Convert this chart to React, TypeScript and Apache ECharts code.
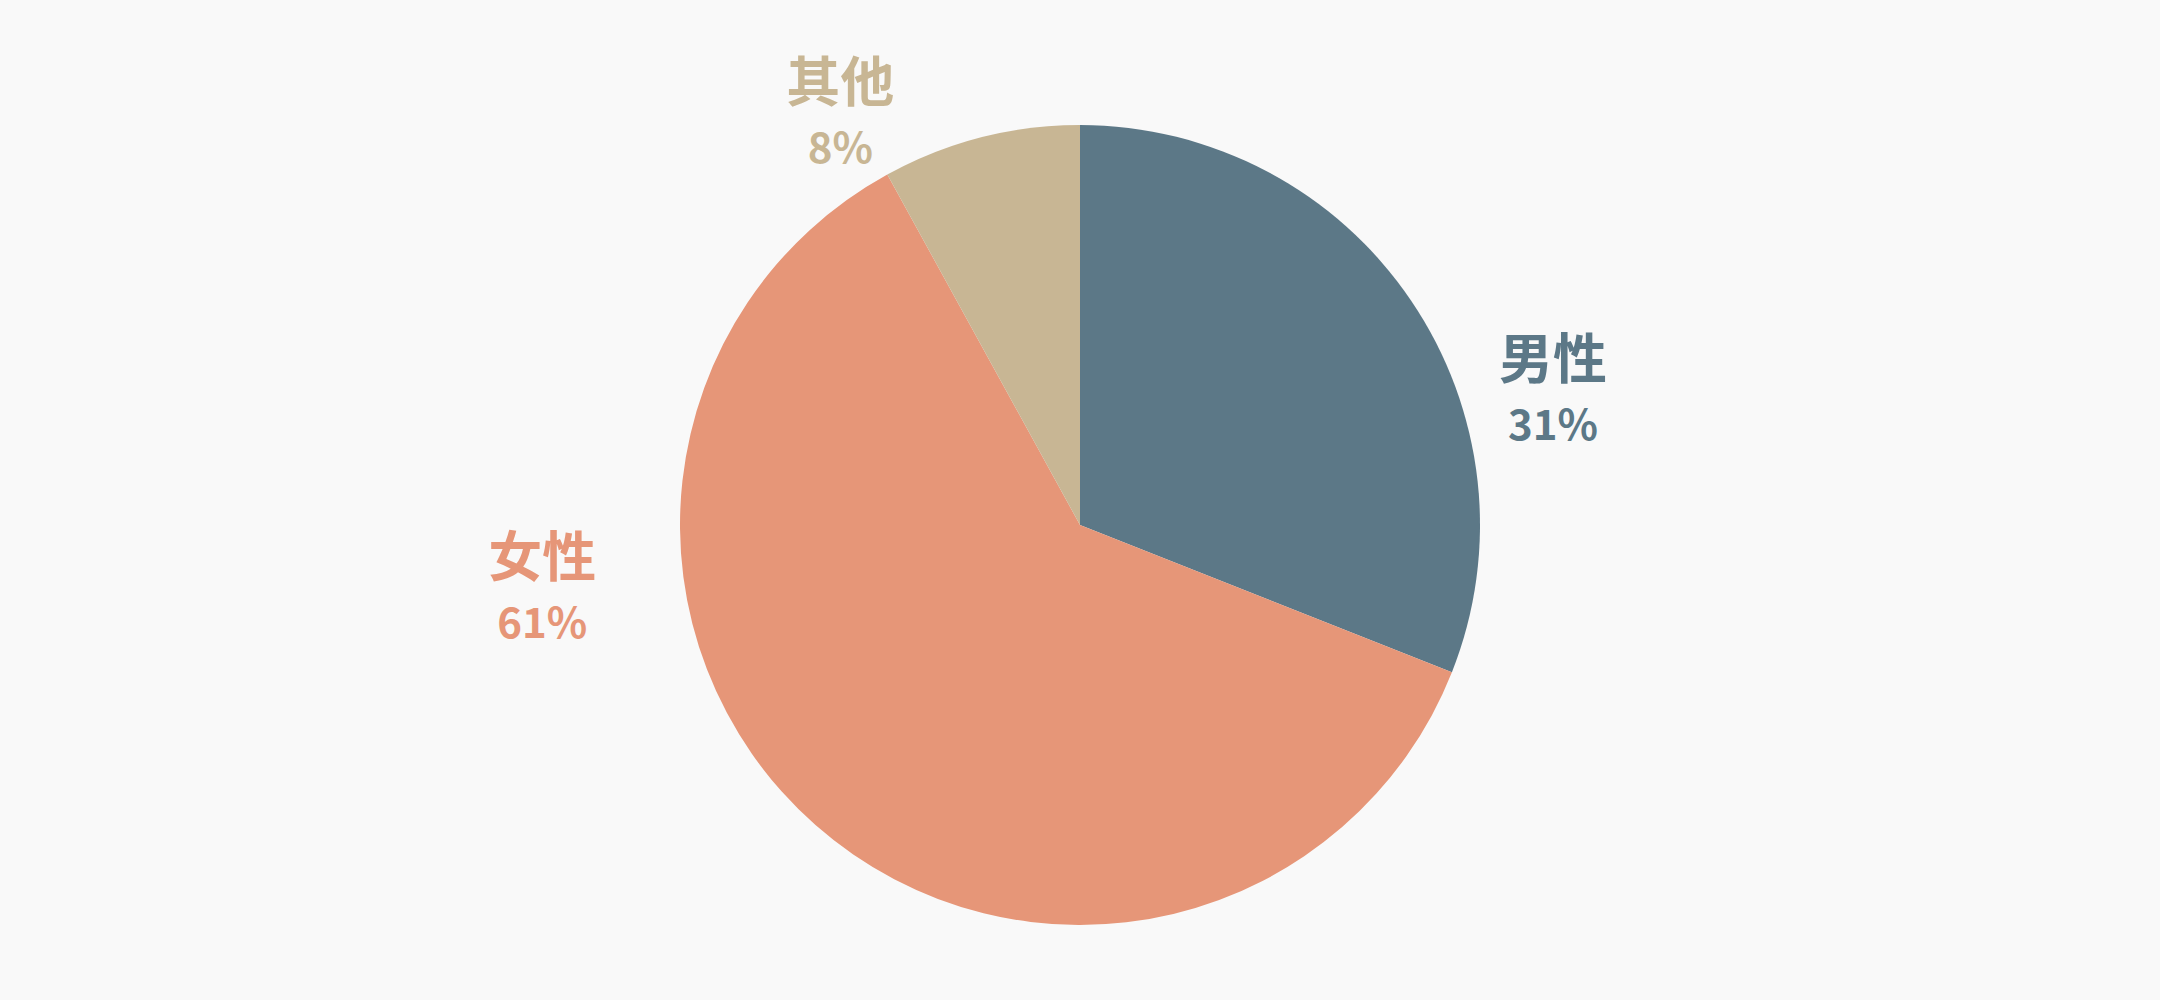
import * as echarts from "echarts";
import React, { useEffect, useRef } from "react";

// 性别构成
const categories = ["男性", "女性", "其他"];
const shares = [31, 61, 8];
const sliceColors = ["#5c7887", "#e69678", "#c8b694"];
// label centres (fraction of chart width / height)
const labelAnchors = [
  [0.719, 0.388],
  [0.251, 0.586],
  [0.389, 0.111],
];

const CJK_FONT = "'Noto Sans CJK SC', 'Noto Sans CJK JP', sans-serif";

const GenderPie: React.FC = () => {
  const chartRef = useRef<HTMLDivElement | null>(null);

  useEffect(() => {
    document.body.style.margin = "0";
    document.body.style.background = "#f9f9f9";
    const chart = echarts.init(chartRef.current, null, { renderer: "svg" });
    const w = chart.getWidth();
    const h = chart.getHeight();

    chart.setOption({
      animation: false,
      backgroundColor: "#f9f9f9",
      series: [
        {
          type: "pie",
          center: ["50%", "52.5%"],
          radius: "80%",
          startAngle: 90,
          clockwise: true,
          avoidLabelOverlap: false,
          itemStyle: { borderWidth: 0 },
          emphasis: { disabled: true },
          labelLine: { show: false },
          label: {
            show: true,
            position: "outside",
            formatter: (p: any) => `{name|${p.name}}\n{pct|${Math.round(p.percent)}%}`,
            rich: {
              name: {
                fontFamily: CJK_FONT,
                fontSize: 54,
                fontWeight: 700,
                lineHeight: 66,
                align: "center",
              },
              pct: {
                fontFamily: CJK_FONT,
                fontSize: 42,
                fontWeight: 700,
                lineHeight: 66,
                align: "center",
              },
            },
          },
          labelLayout: (params: any) => ({
            x: labelAnchors[params.dataIndex][0] * w,
            y: labelAnchors[params.dataIndex][1] * h,
            align: "center",
            verticalAlign: "middle",
          }),
          data: categories.map((name, i) => ({
            name,
            value: shares[i],
            itemStyle: { color: sliceColors[i] },
            label: { color: sliceColors[i] },
          })),
        },
      ],
    });

    const resize = () => chart.resize();
    window.addEventListener("resize", resize);
    return () => {
      window.removeEventListener("resize", resize);
      chart.dispose();
    };
  }, []);

  return <div ref={chartRef} style={{ width: "2160px", height: "1000px" }}></div>;
};

export default function App() {
  return <GenderPie />;
}
